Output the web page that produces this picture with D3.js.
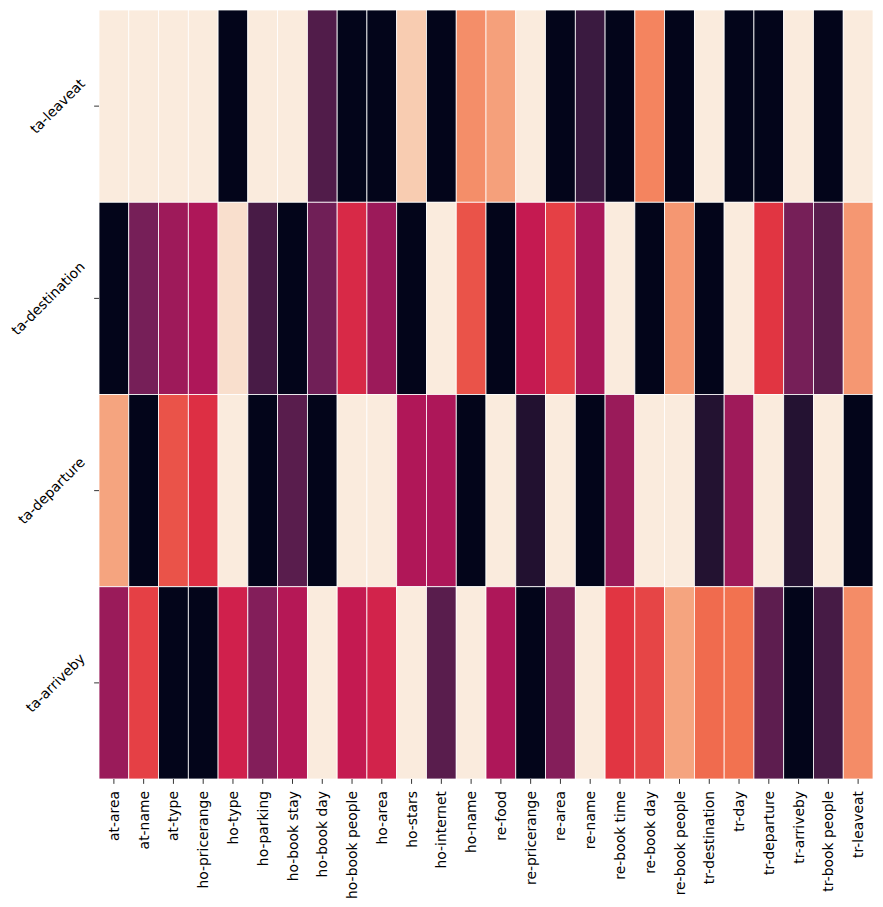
<!DOCTYPE html>
<html>
<head>
<meta charset="utf-8">
<script src="https://cdn.jsdelivr.net/npm/d3@7"></script>
<style>
  body { margin: 0; background: #fff; }
  text { font-family: "DejaVu Sans", sans-serif; }
</style>
</head>
<body>
<script>
// slot pairs shown on each axis
var rowLabels = ['ta-leaveat', 'ta-destination', 'ta-departure', 'ta-arriveby']
var colLabels = ['at-area', 'at-name', 'at-type', 'ho-pricerange', 'ho-type', 'ho-parking',
	'ho-book stay', 'ho-book day', 'ho-book people', 'ho-area', 'ho-stars', 'ho-internet',
	'ho-name', 're-food', 're-pricerange', 're-area', 're-name', 're-book time',
	're-book day', 're-book people', 'tr-destination', 'tr-day', 'tr-departure',
	'tr-arriveby', 'tr-book people', 'tr-leaveat']

// one array per row (0 = darkest, 1 = lightest)
var leaveatVals = [1, 1, 1, 1, 0, 1, 1, 0.21, 0, 0, 0.92, 0, 0.77, 0.81, 1, 0, 0.155, 0,
	0.747, 0, 1, 0, 0, 1, 0, 1]
var destinationVals = [0, 0.30, 0.394, 0.43, 0.97, 0.19, 0, 0.286, 0.542, 0.389, 0, 1, 0.64,
	0, 0.486, 0.60, 0.42, 1, 0, 0.79, 0, 1, 0.575, 0.30, 0.23, 0.79]
var departureVals = [0.82, 0, 0.64, 0.56, 1, 0, 0.23, 0, 1, 1, 0.436, 0.428, 0, 1, 0.089, 1,
	0, 0.384, 1, 1, 0.09, 0.396, 1, 0.095, 1, 0]
var arrivebyVals = [0.384, 0.60, 0, 0, 0.516, 0.331, 0.448, 1, 0.483, 0.523, 1, 0.23, 1, 0.43, 0,
	0.333, 1, 0.575, 0.61, 0.82, 0.69, 0.705, 0.24, 0, 0.185, 0.765]

var rowValues = [leaveatVals, destinationVals, departureVals, arrivebyVals]

// rocket colormap anchors
var rocketStops = [0, 1/7, 2/7, 2.5/7, 3/7, 3.5/7, 4/7, 5/7, 6/7, 1]
var rocketColors = ['#03051a', '#35193e', '#701f57', '#8e1d5b', '#ad1759', '#cb1b4f',
	'#e13342', '#f37651', '#f6b48f', '#faebdd']

var W = 883, H = 907
var plotLeft = 99, plotRight = 873, plotTop = 10, plotBottom = 779

var svg = d3.select('body').append('svg')
	.attr('width', W)
	.attr('height', H)

var x = d3.scaleBand().domain(colLabels).range([plotLeft, plotRight])
var y = d3.scaleBand().domain(rowLabels).range([plotTop, plotBottom])
var color = d3.scaleLinear().domain(rocketStops).range(rocketColors).interpolate(d3.interpolateRgb)

var cells = []
rowLabels.forEach(function(r, i){
	colLabels.forEach(function(c, j){
		cells.push({ row: r, col: c, v: rowValues[i][j] })
	})
})

svg.selectAll('.cell').data(cells).enter().append('rect')
	.attr('class', 'cell')
	.attr('x', function(d){ return x(d.col) })
	.attr('y', function(d){ return y(d.row) })
	.attr('width', x.bandwidth())
	.attr('height', y.bandwidth())
	.style('fill', function(d){ return color(d.v) })
	.style('stroke', '#fff')
	.style('stroke-width', 0.8)

var fs = 13.9
var tick = 4.86

// x axis
var xAxis = svg.append('g')
	.attr('transform', 'translate(0,' + plotBottom + ')')
	.call(d3.axisBottom(x).tickSize(tick).tickPadding(tick))
xAxis.select('.domain').remove()
xAxis.selectAll('line').attr('stroke', '#000').attr('stroke-width', 0.8)
xAxis.selectAll('text')
	.attr('fill', '#000')
	.style('font-size', fs + 'px')
	.attr('text-anchor', 'end')
	.attr('dy', null)
	.attr('y', 0)
	.attr('dominant-baseline', 'central')
	.attr('transform', 'translate(0,' + 12 + ') rotate(-90)')

// y axis
var yAxis = svg.append('g')
	.attr('transform', 'translate(' + plotLeft + ',0)')
	.call(d3.axisLeft(y).tickSize(tick).tickPadding(tick))
yAxis.select('.domain').remove()
yAxis.selectAll('line').attr('stroke', '#000').attr('stroke-width', 0.8)
var h = fs * 1.16
yAxis.selectAll('text')
	.attr('fill', '#000')
	.style('font-size', fs + 'px')
	.attr('text-anchor', 'end')
	.attr('dy', null)
	.attr('x', 0)
	.attr('dominant-baseline', 'central')
	.attr('transform', function(){
		var L = this.getComputedTextLength()
		var px = -11 - 0.354 * h
		var py = -0.354 * L
		return 'translate(' + px + ',' + py + ') rotate(-45)'
	})
</script>
</body>
</html>
